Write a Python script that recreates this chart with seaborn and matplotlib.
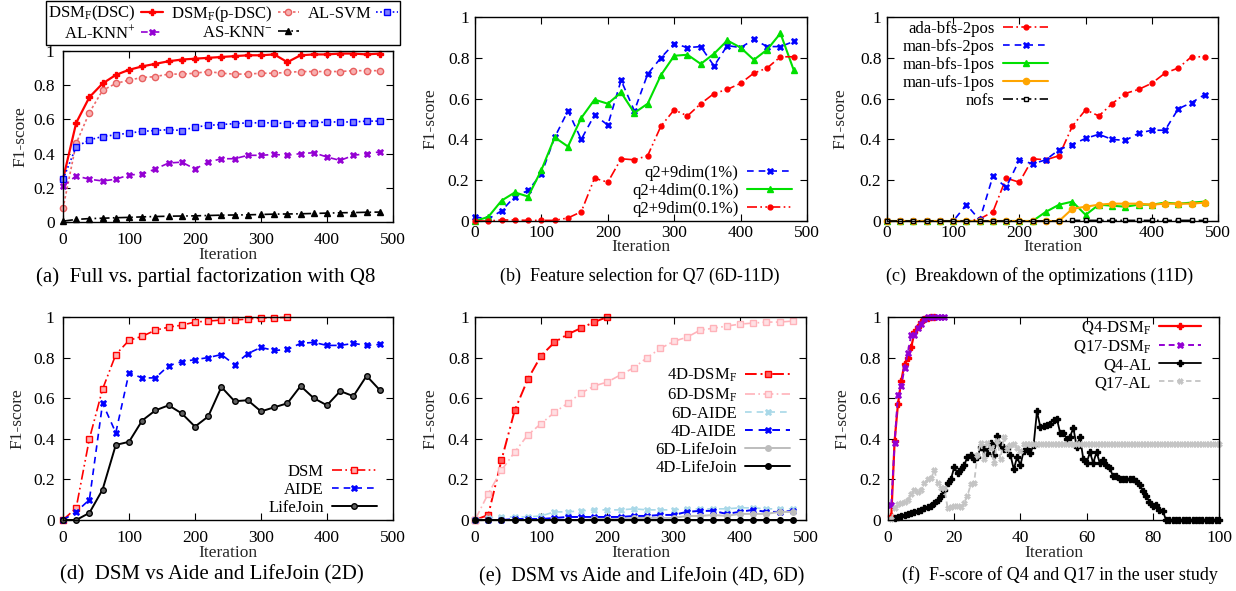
import matplotlib
matplotlib.use('Agg')
import matplotlib.pyplot as plt
import seaborn as sns

# ---------------- data ----------------
iters = list(range(0, 481, 20))

# (a)
a_dsc = [0.25, 0.58, 0.73, 0.81, 0.86, 0.89, 0.91, 0.925, 0.94, 0.95, 0.955, 0.96, 0.965,
         0.97, 0.975, 0.975, 0.98, 0.935, 0.975, 0.98, 0.98, 0.985, 0.985, 0.98, 0.985]
a_pdsc = [0.08, 0.46, 0.64, 0.77, 0.81, 0.83, 0.845, 0.85, 0.865, 0.865, 0.87, 0.88, 0.87,
          0.865, 0.865, 0.87, 0.87, 0.875, 0.88, 0.88, 0.88, 0.88, 0.885, 0.885, 0.885]
a_svm = [0.25, 0.44, 0.48, 0.50, 0.51, 0.52, 0.53, 0.535, 0.54, 0.535, 0.555, 0.565, 0.57,
         0.575, 0.58, 0.58, 0.58, 0.575, 0.58, 0.58, 0.585, 0.585, 0.585, 0.59, 0.59]
a_knnp = [0.21, 0.27, 0.25, 0.24, 0.25, 0.275, 0.28, 0.31, 0.345, 0.35, 0.31, 0.35, 0.37,
          0.37, 0.39, 0.39, 0.395, 0.39, 0.40, 0.405, 0.38, 0.36, 0.39, 0.40, 0.41]
a_knnm = [0.005, 0.015, 0.02, 0.022, 0.025, 0.027, 0.03, 0.032, 0.034, 0.035, 0.036, 0.038, 0.04,
          0.041, 0.042, 0.044, 0.046, 0.047, 0.048, 0.05, 0.052, 0.054, 0.055, 0.057, 0.058]

# (b)
b_9d1 = [0.02, 0.01, 0.05, 0.12, 0.15, 0.23, 0.41, 0.54, 0.40, 0.52, 0.47, 0.69, 0.54,
         0.72, 0.80, 0.87, 0.85, 0.855, 0.76, 0.86, 0.85, 0.89, 0.855, 0.855, 0.88]
b_4d01 = [0.0, 0.02, 0.10, 0.14, 0.12, 0.25, 0.41, 0.365, 0.505, 0.595, 0.575, 0.63, 0.53,
          0.575, 0.715, 0.81, 0.815, 0.77, 0.82, 0.885, 0.85, 0.79, 0.84, 0.92, 0.74]
b_9d01 = [0.0, 0.0, 0.005, 0.005, 0.003, 0.003, 0.003, 0.015, 0.045, 0.21, 0.19, 0.305, 0.30,
          0.32, 0.465, 0.545, 0.515, 0.575, 0.625, 0.645, 0.675, 0.725, 0.75, 0.805, 0.805]

# (c)
c_ada2 = [0.0, 0.0, 0.0, 0.0, 0.0, 0.0, 0.0, 0.01, 0.045, 0.21, 0.19, 0.305, 0.30,
          0.32, 0.465, 0.545, 0.515, 0.575, 0.625, 0.645, 0.675, 0.725, 0.75, 0.805, 0.805]
c_man2 = [0.0, 0.0, 0.0, 0.0, 0.0, 0.0, 0.08, 0.005, 0.22, 0.165, 0.30, 0.28, 0.30,
          0.35, 0.375, 0.405, 0.425, 0.40, 0.395, 0.43, 0.445, 0.445, 0.55, 0.58, 0.62]
c_man1 = [0.0, 0.0, 0.0, 0.0, 0.0, 0.0, 0.0, 0.0, 0.0, 0.0, 0.0, 0.0, 0.045,
          0.08, 0.095, 0.03, 0.08, 0.075, 0.07, 0.08, 0.08, 0.09, 0.085, 0.09, 0.095]
c_ufs1 = [0.0, 0.0, 0.0, 0.0, 0.0, 0.0, 0.0, 0.0, 0.0, 0.0, 0.0, 0.0, 0.0,
          0.0, 0.06, 0.07, 0.08, 0.085, 0.085, 0.085, 0.08, 0.085, 0.085, 0.085, 0.09]
c_nofs = [0.0, 0.0, 0.0, 0.0, 0.0, 0.0, 0.0, 0.0, 0.0, 0.0, 0.0, 0.0, 0.0,
          0.0, 0.003, 0.003, 0.003, 0.003, 0.003, 0.003, 0.003, 0.003, 0.003, 0.003, 0.003]

# (d)
d_iters_dsm = list(range(0, 341, 20))
d_dsm = [0.0, 0.06, 0.40, 0.645, 0.815, 0.885, 0.905, 0.935, 0.95, 0.96, 0.975, 0.98,
         0.985, 0.985, 0.99, 0.995, 0.997, 0.998]
d_aide = [0.0, 0.04, 0.10, 0.575, 0.43, 0.725, 0.70, 0.70, 0.76, 0.78, 0.79, 0.80, 0.815,
          0.765, 0.82, 0.85, 0.835, 0.84, 0.87, 0.875, 0.86, 0.86, 0.87, 0.86, 0.865]
d_life = [0.0, 0.0, 0.035, 0.15, 0.37, 0.385, 0.49, 0.54, 0.565, 0.525, 0.46, 0.51, 0.655,
          0.585, 0.59, 0.535, 0.555, 0.575, 0.66, 0.60, 0.565, 0.635, 0.61, 0.71, 0.64]

# (e)
e_iters_4d = list(range(0, 201, 20))
e_4d_dsm = [0.0, 0.025, 0.295, 0.54, 0.695, 0.81, 0.875, 0.915, 0.945, 0.975, 1.0]
e_6d_dsm = [0.0, 0.13, 0.245, 0.335, 0.42, 0.475, 0.53, 0.575, 0.625, 0.66, 0.68, 0.715, 0.75,
            0.80, 0.845, 0.88, 0.90, 0.935, 0.945, 0.955, 0.965, 0.97, 0.975, 0.975, 0.98]
e_6d_aide = [0.0, 0.01, 0.015, 0.015, 0.015, 0.02, 0.04, 0.04, 0.045, 0.05, 0.05, 0.05, 0.055,
             0.05, 0.05, 0.05, 0.055, 0.055, 0.055, 0.055, 0.06, 0.06, 0.055, 0.055, 0.055]
e_4d_aide = [0.0, 0.0, 0.0, 0.005, 0.005, 0.005, 0.01, 0.015, 0.015, 0.015, 0.015, 0.015, 0.02,
             0.02, 0.025, 0.025, 0.04, 0.045, 0.045, 0.03, 0.04, 0.05, 0.04, 0.04, 0.045]
e_6d_life = [0.0, 0.0, 0.0, 0.0, 0.0, 0.0, 0.0, 0.0, 0.0, 0.005, 0.005, 0.005, 0.01,
             0.01, 0.01, 0.01, 0.02, 0.02, 0.025, 0.02, 0.03, 0.03, 0.03, 0.04, 0.04]
e_4d_life = [0.0, 0.0, 0.0, 0.0, 0.0, 0.0, 0.0, 0.0, 0.0, 0.0, 0.0, 0.0, 0.0,
             0.0, 0.0, 0.0, 0.0, 0.0, 0.0, 0.0, 0.0, 0.0, 0.0, 0.0, 0.0]

# (f)
f_x_q4dsm = list(range(1, 15))
f_q4dsm = [0.02, 0.39, 0.57, 0.685, 0.77, 0.80, 0.85, 0.925, 0.95, 0.975, 0.99, 0.995, 1.0, 1.0]
f_x_q17dsm = list(range(1, 18))
f_q17dsm = [0.075, 0.38, 0.615, 0.66, 0.75, 0.825, 0.91, 0.91, 0.945, 0.965, 0.99, 1.0, 1.0,
            1.0, 1.0, 1.0, 1.0]
f_x_q4al = list(range(2, 101))
f_q4al = [0.01, 0.015, 0.02, 0.025, 0.03, 0.035, 0.04, 0.045, 0.05, 0.06,          # 2-11
          0.065, 0.07, 0.085, 0.10, 0.12, 0.15, 0.18, 0.20, 0.26, 0.23,           # 12-21
          0.25, 0.27, 0.31, 0.32, 0.30, 0.31, 0.36, 0.35, 0.33, 0.38,             # 22-31
          0.32, 0.415, 0.37, 0.35, 0.35, 0.32, 0.25, 0.31, 0.27, 0.34,            # 32-41
          0.35, 0.33, 0.37, 0.535, 0.46, 0.465, 0.47, 0.475, 0.495, 0.50,         # 42-51
          0.43, 0.43, 0.40, 0.41, 0.455, 0.36, 0.41, 0.30, 0.28, 0.335,           # 52-61
          0.28, 0.335, 0.28, 0.295, 0.27, 0.255, 0.215, 0.215, 0.20, 0.20,        # 62-71
          0.20, 0.20, 0.20, 0.19, 0.17, 0.145, 0.12, 0.09, 0.07, 0.075,           # 72-81
          0.05, 0.045, 0.0, 0.0, 0.0, 0.0, 0.0, 0.0, 0.0, 0.0,                    # 82-91
          0.0, 0.0, 0.0, 0.0, 0.0, 0.0, 0.0, 0.0, 0.0]                            # 92-100
f_x_q17al = list(range(1, 101))
f_q17al = [0.005, 0.06, 0.08, 0.085, 0.09, 0.10, 0.13, 0.15, 0.14, 0.15,         # 1-10
           0.18, 0.20, 0.205, 0.245, 0.18, 0.16, 0.16, 0.06, 0.065, 0.07,        # 11-20
           0.07, 0.065, 0.085, 0.12, 0.175, 0.18, 0.32, 0.38, 0.30, 0.38,        # 21-30
           0.355, 0.28, 0.39, 0.30, 0.41, 0.35, 0.37, 0.375, 0.355, 0.34,        # 31-40
           0.375, 0.375, 0.375, 0.375, 0.375, 0.375, 0.375, 0.375, 0.375, 0.375,
           0.375, 0.375, 0.375, 0.375, 0.375, 0.375, 0.375, 0.375, 0.375, 0.375,
           0.375, 0.375, 0.375, 0.375, 0.375, 0.375, 0.375, 0.375, 0.375, 0.375,
           0.375, 0.375, 0.375, 0.375, 0.375, 0.375, 0.375, 0.375, 0.375, 0.375,
           0.375, 0.375, 0.375, 0.375, 0.375, 0.375, 0.375, 0.375, 0.375, 0.375,
           0.375, 0.375, 0.375, 0.375, 0.375, 0.375, 0.375, 0.375, 0.375, 0.375]

y_ticks = [0, 0.2, 0.4, 0.6, 0.8, 1]
y_ticklabels = ['0', '0.2', '0.4', '0.6', '0.8', '1']
x_ticks_iter = [0, 100, 200, 300, 400, 500]
x_ticks_user = [0, 20, 40, 60, 80, 100]

captions = ['(a)  Full vs. partial factorization with Q8',
            '(b)  Feature selection for Q7 (6D-11D)',
            '(c)  Breakdown of the optimizations (11D)',
            '(d)  DSM vs Aide and LifeJoin (2D)',
            '(e)  DSM vs Aide and LifeJoin (4D, 6D)',
            '(f)  F-score of Q4 and Q17 in the user study']

# ---------------- style ----------------
sns.set_theme(style='ticks')
plt.rcParams['font.family'] = ['Liberation Serif', 'DejaVu Serif']
plt.rcParams['mathtext.fontset'] = 'custom'
plt.rcParams['mathtext.rm'] = 'Liberation Serif'
plt.rcParams['mathtext.it'] = 'Liberation Serif:italic'
plt.rcParams['mathtext.bf'] = 'Liberation Serif:bold'
plt.rcParams['axes.edgecolor'] = 'black'
plt.rcParams['text.color'] = 'black'

W, H = 1236, 591
fig = plt.figure(figsize=(W / 100, H / 100), dpi=100)

FS = 12.5
LFS = 12


def make_ax(l, r, t, b):
    return fig.add_axes([l / W, 1 - b / H, (r - l) / W, (b - t) / H])


def style_ax(ax, xmax, xticks, xpad, ypad, l, r, t, b, xlab_y, ylab_x, xlabel=True):
    ax.set_xlim(0, xmax)
    ax.set_ylim(0, 1)
    ax.set_xticks(xticks)
    ax.set_xticklabels([str(v) for v in xticks])
    ax.set_yticks(y_ticks)
    ax.set_yticklabels(y_ticklabels)
    ax.tick_params(direction='in', top=True, right=True, length=5, width=0.8,
                   labelsize=FS, colors='black')
    ax.tick_params(axis='x', pad=xpad)
    ax.tick_params(axis='y', pad=ypad)
    for s in ax.spines.values():
        s.set_visible(True)
        s.set_color('black')
        s.set_linewidth(1.0)
    ax.set_ylabel('F1-score', fontsize=FS)
    ax.yaxis.set_label_coords((ylab_x - l) / (r - l), 0.5)
    ax.yaxis.label.set_va('center')
    if xlabel:
        ax.set_xlabel('Iteration', fontsize=FS)
        ax.xaxis.set_label_coords(0.5, (b - xlab_y) / (b - t))
        ax.xaxis.label.set_va('center')
    else:
        ax.set_xlabel('')


def line(ax, x, y, color, ls, marker, label, ms=4.0, mfc=None, mec=None, lw=1.2, mew=1.0):
    sns.lineplot(x=x, y=y, ax=ax, color=color, linestyle=ls, marker=marker,
                 markersize=ms, markerfacecolor=mfc if mfc else color,
                 markeredgecolor=mec if mec else color, markeredgewidth=mew,
                 linewidth=lw, label=label, legend=False, clip_on=False,
                 errorbar=None, sort=False)


def legend(ax, right, top, order=None, hl=2.7, ls=0.12, **kw):
    h, lab = ax.get_legend_handles_labels()
    if order is not None:
        h = [h[i] for i in order]
        lab = [lab[i] for i in order]
    params = dict(loc='upper right', bbox_to_anchor=(right / W, 1 - top / H),
                  bbox_transform=fig.transFigure, frameon=False, markerfirst=False,
                  fontsize=LFS, handlelength=hl, handletextpad=0.5, labelspacing=ls,
                  borderpad=0.0, borderaxespad=0.0, numpoints=1)
    params.update(kw)
    return ax.legend(h, lab, **params)


DDD = (0, (6, 2, 1, 2, 1, 2))   # dash-dot-dot
DD = (0, (6, 2, 1, 2))          # dash-dot
DASH = (0, (4, 3))
DOT = (0, (1, 1.5))

RED = '#ff0000'
BLUE = '#0000ff'
PURPLE = '#9400d3'
GREEN = '#00e000'
ORANGE = '#ffa500'

# ---------------- (a) ----------------
L, R, T, B = 63, 393, 51, 222
ax = make_ax(L, R, T, B)
line(ax, iters, a_dsc, RED, '-', 'P', r'DSM$_\mathrm{F}$(DSC)', lw=1.6, ms=4.5)
line(ax, iters, a_pdsc, '#ee6a6a', (0, (1.5, 1.5)), 'o', r'DSM$_\mathrm{F}$(p-DSC)', mfc='#f7b0b0', mec='#e86060', ms=4.5)
line(ax, iters, a_svm, BLUE, DOT, 's', 'AL-SVM', mfc='#7f7fff', ms=4)
line(ax, iters, a_knnp, PURPLE, DASH, 'X', r'AL-KNN$^{+}$', ms=4.5, mew=0.5)
line(ax, iters, a_knnm, 'black', DD, '^', r'AS-KNN$^{-}$', ms=4)
style_ax(ax, 500, x_ticks_iter, 7, 6, L, R, T, B, 255, 20)
h, lab = ax.get_legend_handles_labels()
order = [0, 3, 1, 4, 2]
leg = ax.legend([h[i] for i in order], [lab[i] for i in order], ncol=3,
                loc='center', bbox_to_anchor=(223 / W, 1 - 23 / H),
                bbox_transform=fig.transFigure, markerfirst=False, fontsize=LFS,
                handlelength=1.3, handletextpad=0.3, columnspacing=0.5,
                labelspacing=0.05, borderpad=0.15, fancybox=False, frameon=True,
                edgecolor='black', framealpha=1.0, numpoints=1)
leg.get_frame().set_linewidth(1.0)

# ---------------- (b) ----------------
L, R, T, B = 475, 807, 17, 221
ax = make_ax(L, R, T, B)
line(ax, iters, b_9d1, BLUE, DASH, 'X', 'q2+9dim(1%)', ms=4.5, mew=0.5)
line(ax, iters, b_4d01, GREEN, '-', '^', 'q2+4dim(0.1%)', ms=4.5, lw=1.5)
line(ax, iters, b_9d01, RED, DDD, 'o', 'q2+9dim(0.1%)', ms=3.5)
style_ax(ax, 500, x_ticks_iter, 3, 4, L, R, T, B, 247, 430)
legend(ax, 792, 165)

# ---------------- (c) ----------------
L, R, T, B = 887, 1218, 17, 221
ax = make_ax(L, R, T, B)
line(ax, iters, c_ada2, RED, DD, 'o', 'ada-bfs-2pos', ms=3.5)
line(ax, iters, c_man2, BLUE, DASH, 'X', 'man-bfs-2pos', ms=4.5, mew=0.5)
line(ax, iters, c_man1, GREEN, '-', '^', 'man-bfs-1pos', ms=4.5, lw=1.5)
line(ax, iters, c_ufs1, ORANGE, '-', 'o', 'man-ufs-1pos', ms=4.5, lw=1.5)
line(ax, iters, c_nofs, 'black', DD, 's', 'nofs', ms=3.5, mfc='white')
style_ax(ax, 500, x_ticks_iter, 3, 4, L, R, T, B, 247, 840)
legend(ax, 1048, 21)

# ---------------- (d) ----------------
L, R, T, B = 63, 393, 317, 520
ax = make_ax(L, R, T, B)
line(ax, d_iters_dsm, d_dsm, RED, DDD, 's', 'DSM', ms=4, mfc='#ffb0b0')
line(ax, iters, d_aide, BLUE, DASH, 'X', 'AIDE', ms=4.5, mew=0.5)
line(ax, iters, d_life, 'black', '-', 'o', 'LifeJoin', ms=4, mfc='#606060', lw=1.4)
style_ax(ax, 500, x_ticks_iter, 7, 6, L, R, T, B, 553, 17)
legend(ax, 377, 464)

# ---------------- (e) ----------------
L, R, T, B = 475, 806, 317, 520
ax = make_ax(L, R, T, B)
line(ax, e_iters_4d, e_4d_dsm, RED, DDD, 's', r'4D-DSM$_\mathrm{F}$', ms=5, mfc='#ff6060', lw=1.4)
line(ax, iters, e_6d_dsm, '#ffb3ba', DD, 's', r'6D-DSM$_\mathrm{F}$', ms=4.5, mfc='#ffe0e4')
line(ax, iters, e_6d_aide, '#a8d8e8', DASH, 'X', '6D-AIDE', ms=4.5, mew=0.5)
line(ax, iters, e_4d_aide, BLUE, DASH, 'X', '4D-AIDE', ms=4.5, mew=0.5, lw=1.4)
line(ax, iters, e_6d_life, '#bdbdbd', '-', 'o', '6D-LifeJoin', ms=4, lw=1.4)
line(ax, iters, e_4d_life, 'black', '-', 'o', '4D-LifeJoin', ms=4, lw=1.4)
style_ax(ax, 500, x_ticks_iter, 7, 4, L, R, T, B, 553, 430)
legend(ax, 790, 367)

# ---------------- (f) ----------------
L, R, T, B = 888, 1219, 317, 520
ax = make_ax(L, R, T, B)
line(ax, f_x_q4dsm, f_q4dsm, RED, '-', 'P', r'Q4-DSM$_\mathrm{F}$', ms=4.5, lw=1.6)
line(ax, f_x_q17dsm, f_q17dsm, PURPLE, (0, (3, 2)), 'X', r'Q17-DSM$_\mathrm{F}$', ms=4.5, mew=0.5, lw=1.4)
line(ax, f_x_q4al, f_q4al, 'black', '-', 'P', 'Q4-AL', ms=4, lw=1.3)
line(ax, f_x_q17al, f_q17al, '#c4c4c4', (0, (3, 2)), 'X', 'Q17-AL', ms=4, mew=0.5, lw=1.3)
style_ax(ax, 100, x_ticks_user, 7, 5, L, R, T, B, 553, 842)
legend(ax, 1201, 319, hl=2.5)

# ---------------- captions ----------------
cap_pos = [(206, 277), (640, 276), (1040, 276), (212, 575), (642, 577), (1060, 575)]
cap_size = [15, 13, 13, 15, 14.5, 13]
for txt, (cx, cy), fs in zip(captions, cap_pos, cap_size):
    fig.text(cx / W, 1 - cy / H, txt, ha='center', va='center', fontsize=fs)

fig.savefig('out.png', dpi=100)
